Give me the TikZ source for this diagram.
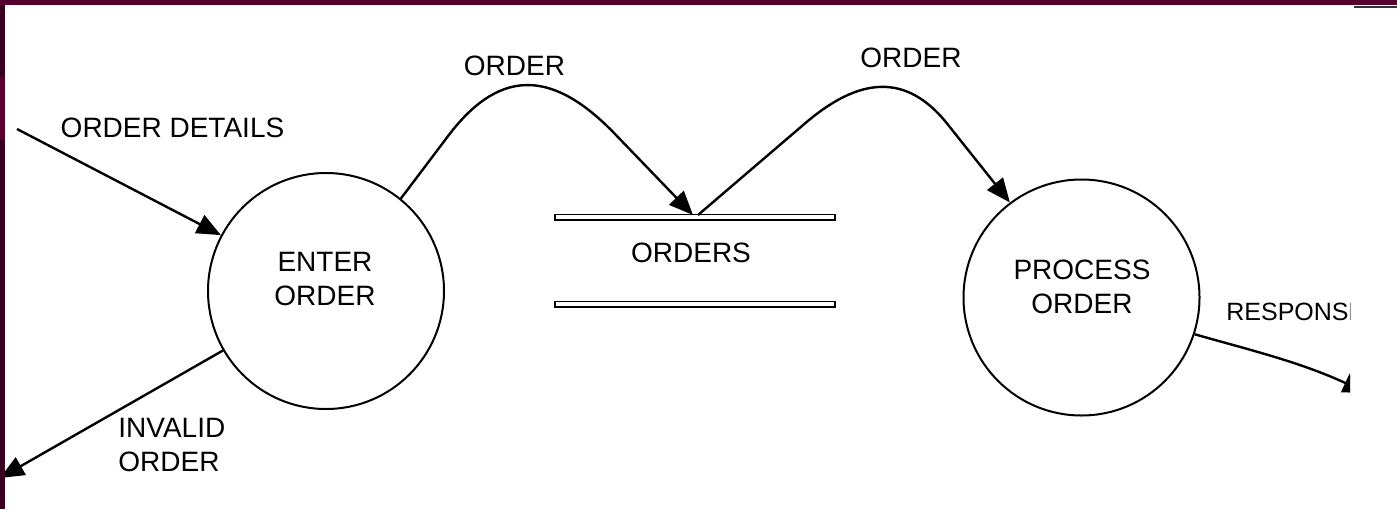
\documentclass[tikz,border=0pt]{standalone}
\usepackage{fontspec}
\setmainfont{Liberation Sans}
\usetikzlibrary{arrows.meta}
\definecolor{barA}{HTML}{55002E}
\definecolor{barB}{HTML}{3A0020}
\definecolor{barC}{HTML}{5C0034}
\begin{document}
\begin{tikzpicture}[x=0.5pt,y=-0.5pt,
  proc/.style={circle,draw,line width=1pt,minimum size=118pt,inner sep=0pt},
  lbl/.style={inner sep=0pt,font=\fontsize{14}{17}\selectfont},
  flow/.style={line width=1.2pt,-{Triangle[length=12pt,width=10pt]}},
  storeline/.style={draw,fill=white,line width=0.8pt}]
\useasboundingbox (0,0) rectangle (1397,509);
\fill[white] (0,0) rectangle (1397,509);
% processes
\node[proc] (c1) at (326,291) {};
\node[proc] (c2) at (1081.5,297.5) {};
\node[lbl,align=center] (t1) at (325,278.5) {ENTER\\ORDER};
\node[lbl,align=center] (t2) at (1082,287) {PROCESS\\ORDER};
% data store
\draw[storeline] (555,214.5) rectangle (835,220);
\draw[storeline] (555,301.5) rectangle (835,307);
\node[lbl] (st) at (691,253) {ORDERS};
\coordinate (s1) at (693,215);
\coordinate (s2) at (698,215);
\coordinate (in1) at (17,129);
\coordinate (out1) at (0,478);
\coordinate (out2) at (1367,393);
% flows
\draw[flow] (in1) -- (c1.152.6);
\draw[flow] (c1.210.4) -- (out1);
\draw[flow] (c1.51.5) -- (450,133.5) .. controls (502.6,65.6) and (555.3,72.1) .. (615,134) -- (s1);
\draw[flow] (s2) -- (805,123.4) .. controls (858.2,77.9) and (906.2,70.6) .. (949,126) -- (c2.127.5);
\begin{scope}
\clip (0,0) rectangle (1350,509);
\draw[flow] (c2.342.3) .. controls (1250,350) and (1300,362) .. (out2);
\node[lbl,font=\fontsize{12.5}{15}\selectfont,anchor=west] (l6) at (1226,312) {RESPONSE};
\end{scope}
% labels
\node[lbl] (l1) at (172.5,128) {ORDER DETAILS};
\node[lbl] (l2) at (514.5,65.5) {ORDER};
\node[lbl] (l3) at (911,57.5) {ORDER};
\node[lbl,align=left,anchor=west] (l5) at (118,445) {INVALID\\ORDER};
% border
\fill[barB] (0,0) rectangle (5,509);
\fill[barC] (0,77) rectangle (5,140);
\fill[barA] (0,0) rectangle (1397,5);
\draw[line width=1pt,black!80] (1354,6.5) -- (1397,6.5);
\end{tikzpicture}
\end{document}
